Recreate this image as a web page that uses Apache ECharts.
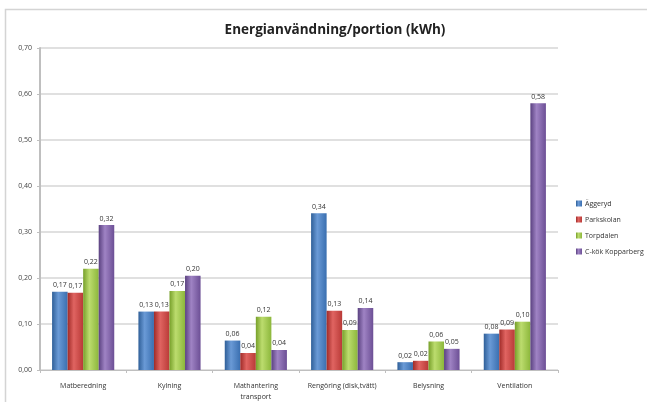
<!DOCTYPE html>
<html>
<head>
<meta charset="utf-8">
<script src="https://cdn.jsdelivr.net/npm/echarts@6/dist/echarts.min.js"></script>
<style>
  html, body { margin: 0; padding: 0; background: #fff; }
  #chart { width: 647px; height: 402px; }
</style>
</head>
<body>
<div id="chart"></div>
<script>
// kategorier och värden (kWh per portion)
var categories = ["Matberedning", "Kylning", "Mathantering\ntransport", "Rengöring (disk,tvätt)", "Belysning", "Ventilation"];
var aggeryd = [0.17, 0.127, 0.064, 0.341, 0.017, 0.079];
var parkskolan = [0.168, 0.127, 0.037, 0.129, 0.02, 0.088];
var torpdalen = [0.22, 0.172, 0.116, 0.087, 0.062, 0.105];
var kopparberg = [0.315, 0.205, 0.0435, 0.135, 0.046, 0.58];
var seriesNames = ["Äggeryd", "Parkskolan", "Torpdalen", "C-kök Kopparberg"];

var baseColors = [
  ["#2f5f98", "#6a9ad6", "#3a6fb0"],
  ["#a02b28", "#e06461", "#b93a37"],
  ["#77a02a", "#bcdc6e", "#8cb73b"],
  ["#5a4180", "#9f83c4", "#6c4f95"]
];

function grad(c) {
  return new echarts.graphic.LinearGradient(0, 0, 1, 0, [
    { offset: 0, color: c[0] },
    { offset: 0.4, color: c[1] },
    { offset: 1, color: c[2] }
  ]);
}

function fmt(v) {
  return v.toFixed(2).replace(".", ",");
}

var chart = echarts.init(document.getElementById("chart"));
var data = [aggeryd, parkskolan, torpdalen, kopparberg];

var options = {
  backgroundColor: "#fff",
  animation: false,
  color: ["#3f74b5", "#c0504d", "#9bbb59", "#8064a2"],
  title: {
    text: "Energianvändning/portion (kWh)",
    left: 330,
    textAlign: "center",
    top: 18,
    textStyle: {
      fontFamily: "Open Sans",
      fontSize: 13.5,
      fontWeight: "bold",
      color: "#222"
    }
  },
  legend: {
    orient: "vertical",
    left: 571,
    top: 195,
    itemWidth: 6,
    itemHeight: 6,
    itemGap: 9,
    icon: "rect",
    textStyle: { fontSize: 7, color: "#333", fontFamily: "Open Sans", padding: [0, 0, 0, -2] },
    data: seriesNames
  },
  grid: {
    left: 40,
    right: 89,
    top: 48,
    bottom: 32
  },
  graphic: [
    {
      type: "rect",
      shape: { x: 5.5, y: 9.5, width: 660, height: 400 },
      style: { fill: "none", stroke: "#d4d4d4", lineWidth: 1.5 },
      silent: true
    }
  ],
  xAxis: {
    type: "category",
    data: categories,
    axisLine: { lineStyle: { color: "#bfbfbf" } },
    axisTick: { show: true, length: 3, lineStyle: { color: "#bfbfbf" } },
    axisLabel: {
      fontSize: 7,
      color: "#333",
      fontFamily: "Open Sans",
      margin: 10,
      interval: 0,
      lineHeight: 11
    }
  },
  yAxis: {
    type: "value",
    min: 0,
    max: 0.7,
    interval: 0.1,
    axisLine: { show: true, lineStyle: { color: "#bfbfbf", width: 2 } },
    axisTick: { show: true, length: 3, lineStyle: { color: "#bfbfbf" } },
    axisLabel: {
      fontSize: 7,
      color: "#444",
      fontFamily: "Open Sans",
      margin: 8,
      formatter: function (v) { return fmt(v); }
    },
    splitLine: { lineStyle: { color: "#d6d6d6", width: 1.5 } }
  },
  series: seriesNames.map(function (name, i) {
    return {
      name: name,
      type: "bar",
      data: data[i],
      barGap: "0%",
      barCategoryGap: "28%",
      itemStyle: { color: grad(baseColors[i]) },
      label: {
        show: true,
        position: "top",
        distance: 3,
        fontSize: 7,
        color: "#333",
        fontFamily: "Open Sans",
        formatter: function (p) { return fmt(p.value); }
      }
    };
  })
};

chart.setOption(options, true);
</script>
</body>
</html>
